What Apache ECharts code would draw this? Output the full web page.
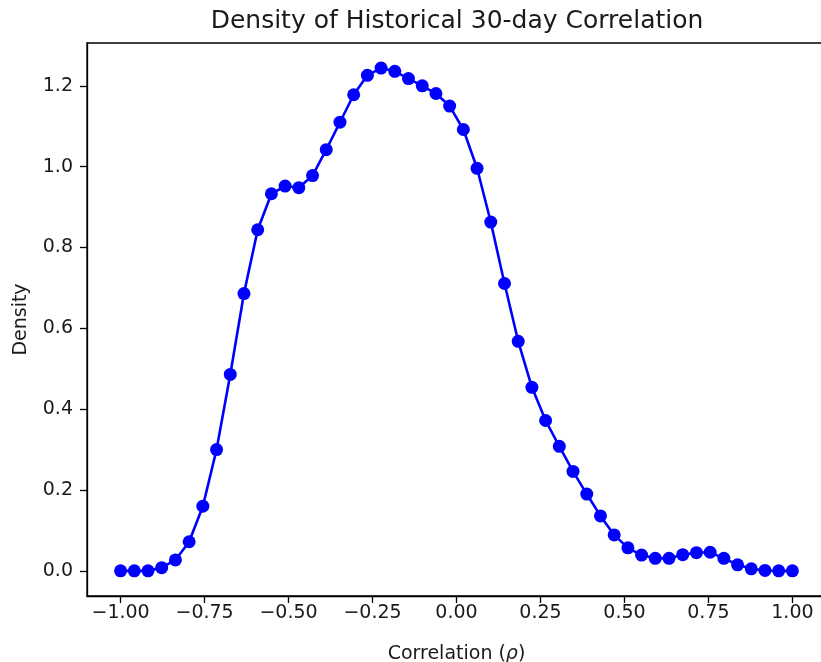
<!DOCTYPE html>
<html>
<head>
<meta charset="utf-8">
<script src="https://cdn.jsdelivr.net/npm/echarts@6/dist/echarts.min.js"></script>
<style>
  html, body { margin: 0; padding: 0; background: #fff; overflow: hidden; }
  #chart { width: 821px; height: 662px; }
</style>
</head>
<body>
<div id="chart"></div>
<script>
// Correlation grid (50 evenly spaced points from -1 to 1)
const correlation = [
  -1.0000, -0.9592, -0.9184, -0.8776, -0.8367, -0.7959, -0.7551, -0.7143, -0.6735, -0.6327,
  -0.5918, -0.5510, -0.5102, -0.4694, -0.4286, -0.3878, -0.3469, -0.3061, -0.2653, -0.2245,
  -0.1837, -0.1429, -0.1020, -0.0612, -0.0204, 0.0204, 0.0612, 0.1020, 0.1429, 0.1837,
  0.2245, 0.2653, 0.3061, 0.3469, 0.3878, 0.4286, 0.4694, 0.5102, 0.5510, 0.5918,
  0.6327, 0.6735, 0.7143, 0.7551, 0.7959, 0.8367, 0.8776, 0.9184, 0.9592, 1.0000
];

// Estimated density at each grid point
const density = [
  0.000, 0.000, 0.000, 0.008, 0.027, 0.072, 0.160, 0.300, 0.486, 0.686,
  0.844, 0.933, 0.952, 0.948, 0.978, 1.042, 1.110, 1.178, 1.226, 1.244,
  1.236, 1.218, 1.200, 1.181, 1.150, 1.092, 0.996, 0.863, 0.711, 0.568,
  0.454, 0.372, 0.308, 0.246, 0.190, 0.136, 0.089, 0.057, 0.039, 0.031,
  0.031, 0.040, 0.045, 0.046, 0.031, 0.015, 0.005, 0.001, 0.000, 0.000
];

const xTicks = [-1.0, -0.75, -0.5, -0.25, 0.0, 0.25, 0.5, 0.75, 1.0];
const yTicks = [0.0, 0.2, 0.4, 0.6, 0.8, 1.0, 1.2];

const FONT = 'DejaVu Sans';
const TXT = '#1a1a1a';

const fmtMinus = (v, digits) => {
  const s = Math.abs(v).toFixed(digits);
  return (v < -1e-9 ? '\u2212' : '') + s;
};

const chart = echarts.init(document.getElementById('chart'), null, { renderer: 'canvas' });

chart.setOption({
  animation: false,
  backgroundColor: '#fff',
  title: {
    text: 'Density of Historical 30-day Correlation',
    left: 452,
    textAlign: 'center',
    top: 4,
    textStyle: { fontFamily: FONT, fontSize: 25, fontWeight: 'normal', color: TXT }
  },
  // axes frame: its right edge sits just past the canvas edge
  grid: {
    left: 87, top: 43, width: 739, height: 553,
    outerBoundsMode: 'none',
    containLabel: false,
    show: true, borderColor: '#000', borderWidth: 1.3, backgroundColor: 'transparent'
  },
  xAxis: {
    type: 'value',
    min: -1.1, max: 1.1,
    name: 'Correlation ({i|\u03c1})',
    nameLocation: 'middle',
    nameGap: 49,
    nameTextStyle: {
      fontFamily: FONT, fontSize: 19, color: TXT,
      rich: { i: { fontFamily: FONT, fontSize: 19, fontStyle: 'italic', color: TXT } }
    },
    splitLine: { show: false },
    axisLine: { show: true, onZero: false, lineStyle: { color: '#000', width: 1.3 } },
    axisTick: { show: true, length: 7, customValues: xTicks, lineStyle: { color: '#000', width: 1.3 } },
    axisLabel: {
      customValues: xTicks, margin: 8,
      fontFamily: FONT, fontSize: 19, color: TXT,
      formatter: v => fmtMinus(v, 2)
    }
  },
  yAxis: {
    type: 'value',
    min: -0.0622, max: 1.306,
    name: 'Density',
    nameLocation: 'middle',
    nameGap: 56,
    nameRotate: 90,
    nameTextStyle: { fontFamily: FONT, fontSize: 19, color: TXT },
    splitLine: { show: false },
    axisLine: { show: true, onZero: false, lineStyle: { color: '#000', width: 1.3 } },
    axisTick: { show: true, length: 7, customValues: yTicks, lineStyle: { color: '#000', width: 1.3 } },
    axisLabel: {
      customValues: yTicks, margin: 14,
      fontFamily: FONT, fontSize: 19, color: TXT,
      formatter: v => fmtMinus(v, 1)
    }
  },
  series: [{
    type: 'line',
    data: correlation.map((x, i) => [x, density[i]]),
    symbol: 'circle',
    symbolSize: 13,
    showSymbol: true,
    showAllSymbol: true,
    itemStyle: { color: '#0000ff' },
    lineStyle: { color: '#0000ff', width: 2.6 },
    clip: false
  }]
});
</script>
</body>
</html>
